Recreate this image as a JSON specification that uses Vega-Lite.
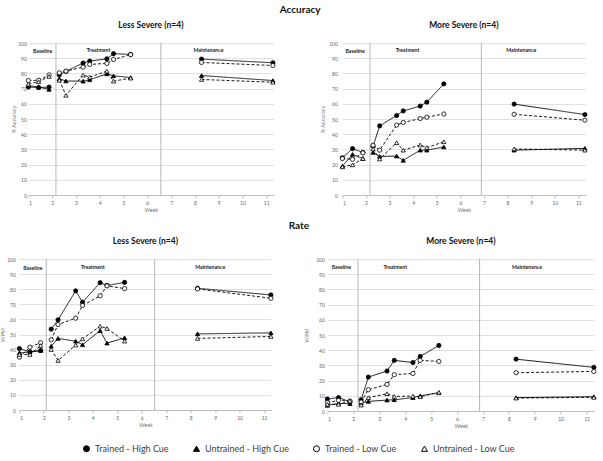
{
  "$schema": "https://vega.github.io/schema/vega-lite/v6.json",
  "padding": {"left": 0, "top": 4, "right": 2, "bottom": 2},
  "background": "white",
  "datasets": {
    "perf": [
      {"panel": "A", "phase": "Baseline", "week": 1, "Trained - High Cue": 71, "Untrained - High Cue": 72, "Trained - Low Cue": 75.3, "Untrained - Low Cue": 73},
      {"panel": "A", "phase": "Baseline", "week": 1.43, "Trained - High Cue": 70.7, "Untrained - High Cue": 71, "Trained - Low Cue": 75.5, "Untrained - Low Cue": 74.5},
      {"panel": "A", "phase": "Baseline", "week": 1.87, "Trained - High Cue": 71, "Untrained - High Cue": 69.5, "Trained - Low Cue": 79, "Untrained - Low Cue": 78},
      {"panel": "A", "phase": "Treatment", "week": 2.3, "Trained - High Cue": 79, "Untrained - High Cue": 76.5, "Trained - Low Cue": 80.4, "Untrained - Low Cue": 75.5},
      {"panel": "A", "phase": "Treatment", "week": 2.58, "Trained - High Cue": 81.3, "Untrained - High Cue": 75, "Trained - Low Cue": 81.5, "Untrained - Low Cue": 65.6},
      {"panel": "A", "phase": "Treatment", "week": 3.3, "Trained - High Cue": 86.8, "Untrained - High Cue": 74.9, "Trained - Low Cue": 84.1, "Untrained - Low Cue": 78.9},
      {"panel": "A", "phase": "Treatment", "week": 3.58, "Trained - High Cue": 88.1, "Untrained - High Cue": 75.8, "Trained - Low Cue": 85.9, "Untrained - Low Cue": 77.5},
      {"panel": "A", "phase": "Treatment", "week": 4.3, "Trained - High Cue": 89.6, "Untrained - High Cue": 79.7, "Trained - Low Cue": 86.6, "Untrained - Low Cue": 81.5},
      {"panel": "A", "phase": "Treatment", "week": 4.58, "Trained - High Cue": 93, "Untrained - High Cue": 78.4, "Trained - Low Cue": 89.2, "Untrained - Low Cue": 74.9},
      {"panel": "A", "phase": "Treatment", "week": 5.3, "Trained - High Cue": 92.5, "Untrained - High Cue": 77.3, "Trained - Low Cue": 92.3, "Untrained - Low Cue": 76.9},
      {"panel": "A", "phase": "Maintenance", "week": 8.28, "Trained - High Cue": 89.4, "Untrained - High Cue": 78.6, "Trained - Low Cue": 87.2, "Untrained - Low Cue": 76},
      {"panel": "A", "phase": "Maintenance", "week": 11.28, "Trained - High Cue": 87, "Untrained - High Cue": 75.3, "Trained - Low Cue": 85.2, "Untrained - Low Cue": 74.2},
      {"panel": "B", "phase": "Baseline", "week": 1, "Trained - High Cue": 24.5, "Untrained - High Cue": 19, "Trained - Low Cue": 24, "Untrained - Low Cue": 18.5},
      {"panel": "B", "phase": "Baseline", "week": 1.43, "Trained - High Cue": 30.5, "Untrained - High Cue": 26.7, "Trained - Low Cue": 23.5, "Untrained - Low Cue": 19.8},
      {"panel": "B", "phase": "Baseline", "week": 1.87, "Trained - High Cue": 28, "Untrained - High Cue": 24, "Trained - Low Cue": 27.7, "Untrained - Low Cue": 24},
      {"panel": "B", "phase": "Treatment", "week": 2.3, "Trained - High Cue": 32, "Untrained - High Cue": 28, "Trained - Low Cue": 32.7, "Untrained - Low Cue": 30.3},
      {"panel": "B", "phase": "Treatment", "week": 2.58, "Trained - High Cue": 45.5, "Untrained - High Cue": 25.4, "Trained - Low Cue": 29.5, "Untrained - Low Cue": 23.7},
      {"panel": "B", "phase": "Treatment", "week": 3.3, "Trained - High Cue": 52.3, "Untrained - High Cue": 25.6, "Trained - Low Cue": 46, "Untrained - Low Cue": 34.4},
      {"panel": "B", "phase": "Treatment", "week": 3.58, "Trained - High Cue": 55.3, "Untrained - High Cue": 22.8, "Trained - Low Cue": 47.7, "Untrained - Low Cue": 29.5},
      {"panel": "B", "phase": "Treatment", "week": 4.3, "Trained - High Cue": 58.5, "Untrained - High Cue": 29.5, "Trained - Low Cue": 50.3, "Untrained - Low Cue": 32.9},
      {"panel": "B", "phase": "Treatment", "week": 4.58, "Trained - High Cue": 61.1, "Untrained - High Cue": 29.5, "Trained - Low Cue": 51.2, "Untrained - Low Cue": 31.2},
      {"panel": "B", "phase": "Treatment", "week": 5.3, "Trained - High Cue": 73.1, "Untrained - High Cue": 31.6, "Trained - Low Cue": 53.3, "Untrained - Low Cue": 35},
      {"panel": "B", "phase": "Maintenance", "week": 8.28, "Trained - High Cue": 59.8, "Untrained - High Cue": 29.5, "Trained - Low Cue": 53.1, "Untrained - Low Cue": 30.3},
      {"panel": "B", "phase": "Maintenance", "week": 11.28, "Trained - High Cue": 52.9, "Untrained - High Cue": 30.7, "Trained - Low Cue": 49.2, "Untrained - Low Cue": 29.5},
      {"panel": "C", "phase": "Baseline", "week": 1, "Trained - High Cue": 40.7, "Untrained - High Cue": 37.9, "Trained - Low Cue": 35, "Untrained - Low Cue": 36.8},
      {"panel": "C", "phase": "Baseline", "week": 1.43, "Trained - High Cue": 38.5, "Untrained - High Cue": 38.3, "Trained - Low Cue": 41.6, "Untrained - Low Cue": 36.8},
      {"panel": "C", "phase": "Baseline", "week": 1.87, "Trained - High Cue": 39.4, "Untrained - High Cue": 39.4, "Trained - Low Cue": 44.5, "Untrained - Low Cue": 42.7},
      {"panel": "C", "phase": "Treatment", "week": 2.3, "Trained - High Cue": 53.5, "Untrained - High Cue": 42.3, "Trained - Low Cue": 46.5, "Untrained - Low Cue": 40.1},
      {"panel": "C", "phase": "Treatment", "week": 2.58, "Trained - High Cue": 59.7, "Untrained - High Cue": 47.4, "Trained - Low Cue": 56.6, "Untrained - Low Cue": 32.8},
      {"panel": "C", "phase": "Treatment", "week": 3.3, "Trained - High Cue": 78.9, "Untrained - High Cue": 45.6, "Trained - Low Cue": 60.8, "Untrained - Low Cue": 43},
      {"panel": "C", "phase": "Treatment", "week": 3.58, "Trained - High Cue": 71.4, "Untrained - High Cue": 43.2, "Trained - Low Cue": 69.2, "Untrained - Low Cue": 47.1},
      {"panel": "C", "phase": "Treatment", "week": 4.3, "Trained - High Cue": 84.3, "Untrained - High Cue": 52.6, "Trained - Low Cue": 75.6, "Untrained - Low Cue": 55.5},
      {"panel": "C", "phase": "Treatment", "week": 4.58, "Trained - High Cue": 82.5, "Untrained - High Cue": 44.3, "Trained - Low Cue": 82.2, "Untrained - Low Cue": 54},
      {"panel": "C", "phase": "Treatment", "week": 5.3, "Trained - High Cue": 84.5, "Untrained - High Cue": 47.8, "Trained - Low Cue": 80.4, "Untrained - Low Cue": 45.6},
      {"panel": "C", "phase": "Maintenance", "week": 8.28, "Trained - High Cue": 80.6, "Untrained - High Cue": 50.4, "Trained - Low Cue": 80.2, "Untrained - Low Cue": 47.4},
      {"panel": "C", "phase": "Maintenance", "week": 11.28, "Trained - High Cue": 76.2, "Untrained - High Cue": 51.1, "Trained - Low Cue": 74, "Untrained - Low Cue": 48.7},
      {"panel": "D", "phase": "Baseline", "week": 1, "Trained - High Cue": 7.9, "Untrained - High Cue": 3.7, "Trained - Low Cue": 5.5, "Untrained - Low Cue": 4.4},
      {"panel": "D", "phase": "Baseline", "week": 1.43, "Trained - High Cue": 8.8, "Untrained - High Cue": 5, "Trained - Low Cue": 7, "Untrained - Low Cue": 4.4},
      {"panel": "D", "phase": "Baseline", "week": 1.87, "Trained - High Cue": 6.1, "Untrained - High Cue": 4.8, "Trained - Low Cue": 6.6, "Untrained - Low Cue": 6.6},
      {"panel": "D", "phase": "Treatment", "week": 2.3, "Trained - High Cue": 7.4, "Untrained - High Cue": 5.3, "Trained - Low Cue": 5.9, "Untrained - Low Cue": 3.9},
      {"panel": "D", "phase": "Treatment", "week": 2.58, "Trained - High Cue": 22.3, "Untrained - High Cue": 6.3, "Trained - Low Cue": 14, "Untrained - Low Cue": 8.8},
      {"panel": "D", "phase": "Treatment", "week": 3.3, "Trained - High Cue": 26.3, "Untrained - High Cue": 7.2, "Trained - Low Cue": 17.5, "Untrained - Low Cue": 11.4},
      {"panel": "D", "phase": "Treatment", "week": 3.58, "Trained - High Cue": 33.3, "Untrained - High Cue": 7.4, "Trained - Low Cue": 23.9, "Untrained - Low Cue": 9.6},
      {"panel": "D", "phase": "Treatment", "week": 4.3, "Trained - High Cue": 31.9, "Untrained - High Cue": 8.8, "Trained - Low Cue": 24.7, "Untrained - Low Cue": 9.8},
      {"panel": "D", "phase": "Treatment", "week": 4.58, "Trained - High Cue": 35.9, "Untrained - High Cue": 10, "Trained - Low Cue": 33.3, "Untrained - Low Cue": 9.4},
      {"panel": "D", "phase": "Treatment", "week": 5.3, "Trained - High Cue": 43.1, "Untrained - High Cue": 12, "Trained - Low Cue": 32.6, "Untrained - Low Cue": 12.3},
      {"panel": "D", "phase": "Maintenance", "week": 8.28, "Trained - High Cue": 34.1, "Untrained - High Cue": 8.8, "Trained - Low Cue": 25.2, "Untrained - Low Cue": 8.5},
      {"panel": "D", "phase": "Maintenance", "week": 11.28, "Trained - High Cue": 28.7, "Untrained - High Cue": 9.4, "Trained - Low Cue": 26, "Untrained - Low Cue": 9}
    ],
    "phases": [
      {"panel": "A", "week": 2.16}, {"panel": "A", "week": 6.57},
      {"panel": "B", "week": 2.17}, {"panel": "B", "week": 6.89},
      {"panel": "C", "week": 2.1}, {"panel": "C", "week": 6.53},
      {"panel": "D", "week": 2.18}, {"panel": "D", "week": 6.87}
    ],
    "labels": [
      {"panel": "A", "label": "Baseline", "week": 1.6, "value": 94.5},
      {"panel": "A", "label": "Treatment", "week": 3.95, "value": 95.3},
      {"panel": "A", "label": "Maintenance", "week": 8.57, "value": 95.3},
      {"panel": "B", "label": "Baseline", "week": 1.54, "value": 94.6},
      {"panel": "B", "label": "Treatment", "week": 3.76, "value": 95.3},
      {"panel": "B", "label": "Maintenance", "week": 8.58, "value": 95.3},
      {"panel": "C", "label": "Baseline", "week": 1.55, "value": 94},
      {"panel": "C", "label": "Treatment", "week": 4.0, "value": 94.5},
      {"panel": "C", "label": "Maintenance", "week": 8.8, "value": 94.8},
      {"panel": "D", "label": "Baseline", "week": 1.54, "value": 94.7},
      {"panel": "D", "label": "Treatment", "week": 3.62, "value": 94.7},
      {"panel": "D", "label": "Maintenance", "week": 8.7, "value": 95}
    ]
  },
  "center": true,
  "resolve": {"scale": {"shape": "shared", "fill": "shared", "stroke": "shared", "strokeDash": "shared"}, "legend": {"shape": "shared", "fill": "shared", "stroke": "shared"}},
  "vconcat": [
    {
      "title": {"text": "Accuracy", "fontSize": 10, "offset": 6},
      "spacing": 69,
      "bounds": "flush",
      "resolve": {"scale": {"shape": "shared", "fill": "shared", "stroke": "shared", "strokeDash": "shared"}, "legend": {"shape": "shared", "fill": "shared", "stroke": "shared"}},
      "hconcat": [
        {
          "width": 245, "height": 152,
          "title": {"text": "Less Severe (n=4)", "fontSize": 8.5, "offset": 12},
          "encoding": {"x": {"field": "week", "type": "quantitative", "scale": {"domain": [1, 11.3], "nice": false, "zero": false}, "axis": {"values": [1,2,3,4,5,6,7,8,9,10,11], "title": "Week"}}},
          "layer": [
            {"data": {"name": "phases"}, "transform": [{"filter": "datum.panel === 'A'"}], "mark": {"type": "rule", "color": "#a6a6a6", "strokeWidth": 0.8}, "encoding": {}},
            {"data": {"name": "labels"}, "transform": [{"filter": "datum.panel === 'A'"}], "mark": {"type": "text", "fontSize": 5.2, "fontWeight": "bold", "color": "#222222"}, "encoding": {"y": {"field": "value", "type": "quantitative", "scale": {"domain": [0, 100]}, "axis": {"values": [0,10,20,30,40,50,60,70,80,90,100], "title": "% Accuracy", "labelPadding": 2, "titlePadding": 1}}, "text": {"field": "label"}}},
            {"data": {"name": "perf"}, "transform": [{"filter": "datum.panel === 'A'"}, {"fold": ["Trained - High Cue", "Untrained - High Cue", "Trained - Low Cue", "Untrained - Low Cue"], "as": ["series", "value"]}],
             "layer": [
               {"mark": {"type": "line", "color": "black", "strokeWidth": 0.9}, "encoding": {"y": {"field": "value", "type": "quantitative", "scale": {"domain": [0, 100]}, "axis": {"values": [0,10,20,30,40,50,60,70,80,90,100], "title": "% Accuracy", "labelPadding": 2, "titlePadding": 1}}, "detail": [{"field": "series"}, {"field": "phase"}], "strokeDash": {"field": "series", "scale": {"domain": ["Trained - Low Cue", "Untrained - Low Cue", "Trained - High Cue", "Untrained - High Cue"], "range": [[3, 2], [3, 2], [1, 0], [1, 0]]}, "legend": null}}},
               {"mark": {"type": "point", "filled": true, "strokeWidth": 0.8, "opacity": 1, "size": 18}, "encoding": {"y": {"field": "value", "type": "quantitative", "axis": {"values": [0,10,20,30,40,50,60,70,80,90,100], "title": "% Accuracy", "labelPadding": 2, "titlePadding": 1}},
                 "fill": {"field": "series", "scale": {"domain": ["Trained - High Cue", "Untrained - High Cue", "Trained - Low Cue", "Untrained - Low Cue"], "range": ["black", "black", "white", "white"]}, "legend": {"title": null, "orient": "bottom", "direction": "horizontal"}},
                 "stroke": {"field": "series", "scale": {"domain": ["Trained - High Cue", "Untrained - High Cue", "Trained - Low Cue", "Untrained - Low Cue"], "range": ["black", "black", "black", "black"]}, "legend": {"title": null, "orient": "bottom", "direction": "horizontal"}},
                 "shape": {"field": "series", "scale": {"domain": ["Trained - High Cue", "Untrained - High Cue", "Trained - Low Cue", "Untrained - Low Cue"], "range": ["circle", "triangle-up", "circle", "triangle-up"]}, "legend": {"title": null, "orient": "bottom", "direction": "horizontal"}}}}
             ]}
          ]
        },
        {
          "width": 243, "height": 152,
          "title": {"text": "More Severe (n=4)", "fontSize": 8.5, "offset": 12},
          "encoding": {"x": {"field": "week", "type": "quantitative", "scale": {"domain": [1, 11.3], "nice": false, "zero": false}, "axis": {"values": [1,2,3,4,5,6,7,8,9,10,11], "title": "Week"}}},
          "layer": [
            {"data": {"name": "phases"}, "transform": [{"filter": "datum.panel === 'B'"}], "mark": {"type": "rule", "color": "#a6a6a6", "strokeWidth": 0.8}, "encoding": {}},
            {"data": {"name": "labels"}, "transform": [{"filter": "datum.panel === 'B'"}], "mark": {"type": "text", "fontSize": 5.2, "fontWeight": "bold", "color": "#222222"}, "encoding": {"y": {"field": "value", "type": "quantitative", "scale": {"domain": [0, 100]}, "axis": {"values": [0,10,20,30,40,50,60,70,80,90,100], "title": "% Accuracy", "labelPadding": 5, "titlePadding": 3}}, "text": {"field": "label"}}},
            {"data": {"name": "perf"}, "transform": [{"filter": "datum.panel === 'B'"}, {"fold": ["Trained - High Cue", "Untrained - High Cue", "Trained - Low Cue", "Untrained - Low Cue"], "as": ["series", "value"]}],
             "layer": [
               {"mark": {"type": "line", "color": "black", "strokeWidth": 0.9}, "encoding": {"y": {"field": "value", "type": "quantitative", "scale": {"domain": [0, 100]}, "axis": {"values": [0,10,20,30,40,50,60,70,80,90,100], "title": "% Accuracy", "labelPadding": 5, "titlePadding": 3}}, "detail": [{"field": "series"}, {"field": "phase"}], "strokeDash": {"field": "series", "scale": {"domain": ["Trained - Low Cue", "Untrained - Low Cue", "Trained - High Cue", "Untrained - High Cue"], "range": [[3, 2], [3, 2], [1, 0], [1, 0]]}, "legend": null}}},
               {"mark": {"type": "point", "filled": true, "strokeWidth": 0.8, "opacity": 1, "size": 18}, "encoding": {"y": {"field": "value", "type": "quantitative", "axis": {"values": [0,10,20,30,40,50,60,70,80,90,100], "title": "% Accuracy", "labelPadding": 5, "titlePadding": 3}},
                 "fill": {"field": "series", "scale": {"domain": ["Trained - High Cue", "Untrained - High Cue", "Trained - Low Cue", "Untrained - Low Cue"], "range": ["black", "black", "white", "white"]}},
                 "stroke": {"field": "series", "scale": {"domain": ["Trained - High Cue", "Untrained - High Cue", "Trained - Low Cue", "Untrained - Low Cue"], "range": ["black", "black", "black", "black"]}},
                 "shape": {"field": "series", "scale": {"domain": ["Trained - High Cue", "Untrained - High Cue", "Trained - Low Cue", "Untrained - Low Cue"], "range": ["circle", "triangle-up", "circle", "triangle-up"]}}}}
             ]}
          ]
        }
      ]
    },
    {
      "title": {"text": "Rate", "fontSize": 10, "offset": 6},
      "spacing": 56,
      "bounds": "flush",
      "resolve": {"scale": {"shape": "shared", "fill": "shared", "stroke": "shared", "strokeDash": "shared"}, "legend": {"shape": "shared", "fill": "shared", "stroke": "shared"}},
      "hconcat": [
        {
          "width": 252, "height": 151,
          "title": {"text": "Less Severe (n=4)", "fontSize": 8.5, "offset": 12},
          "encoding": {"x": {"field": "week", "type": "quantitative", "scale": {"domain": [1, 11.3], "nice": false, "zero": false}, "axis": {"values": [1,2,3,4,5,6,7,8,9,10,11], "title": "Week"}}},
          "layer": [
            {"data": {"name": "phases"}, "transform": [{"filter": "datum.panel === 'C'"}], "mark": {"type": "rule", "color": "#a6a6a6", "strokeWidth": 0.8}, "encoding": {}},
            {"data": {"name": "labels"}, "transform": [{"filter": "datum.panel === 'C'"}], "mark": {"type": "text", "fontSize": 5.2, "fontWeight": "bold", "color": "#222222"}, "encoding": {"y": {"field": "value", "type": "quantitative", "scale": {"domain": [0, 100]}, "axis": {"values": [0,10,20,30,40,50,60,70,80,90,100], "title": "WPM", "labelPadding": 4, "titlePadding": 1.5}}, "text": {"field": "label"}}},
            {"data": {"name": "perf"}, "transform": [{"filter": "datum.panel === 'C'"}, {"fold": ["Trained - High Cue", "Untrained - High Cue", "Trained - Low Cue", "Untrained - Low Cue"], "as": ["series", "value"]}],
             "layer": [
               {"mark": {"type": "line", "color": "black", "strokeWidth": 0.9}, "encoding": {"y": {"field": "value", "type": "quantitative", "scale": {"domain": [0, 100]}, "axis": {"values": [0,10,20,30,40,50,60,70,80,90,100], "title": "WPM", "labelPadding": 4, "titlePadding": 1.5}}, "detail": [{"field": "series"}, {"field": "phase"}], "strokeDash": {"field": "series", "scale": {"domain": ["Trained - Low Cue", "Untrained - Low Cue", "Trained - High Cue", "Untrained - High Cue"], "range": [[3, 2], [3, 2], [1, 0], [1, 0]]}, "legend": null}}},
               {"mark": {"type": "point", "filled": true, "strokeWidth": 0.8, "opacity": 1, "size": 18}, "encoding": {"y": {"field": "value", "type": "quantitative", "axis": {"values": [0,10,20,30,40,50,60,70,80,90,100], "title": "WPM", "labelPadding": 4, "titlePadding": 1.5}},
                 "fill": {"field": "series", "scale": {"domain": ["Trained - High Cue", "Untrained - High Cue", "Trained - Low Cue", "Untrained - Low Cue"], "range": ["black", "black", "white", "white"]}},
                 "stroke": {"field": "series", "scale": {"domain": ["Trained - High Cue", "Untrained - High Cue", "Trained - Low Cue", "Untrained - Low Cue"], "range": ["black", "black", "black", "black"]}},
                 "shape": {"field": "series", "scale": {"domain": ["Trained - High Cue", "Untrained - High Cue", "Trained - Low Cue", "Untrained - Low Cue"], "range": ["circle", "triangle-up", "circle", "triangle-up"]}}}}
             ]}
          ]
        },
        {
          "width": 267, "height": 152,
          "title": {"text": "More Severe (n=4)", "fontSize": 8.5, "offset": 12},
          "encoding": {"x": {"field": "week", "type": "quantitative", "scale": {"domain": [1, 11.3], "nice": false, "zero": false}, "axis": {"values": [1,2,3,4,5,6,7,8,9,10,11], "title": "Week"}}},
          "layer": [
            {"data": {"name": "phases"}, "transform": [{"filter": "datum.panel === 'D'"}], "mark": {"type": "rule", "color": "#a6a6a6", "strokeWidth": 0.8}, "encoding": {}},
            {"data": {"name": "labels"}, "transform": [{"filter": "datum.panel === 'D'"}], "mark": {"type": "text", "fontSize": 5.2, "fontWeight": "bold", "color": "#222222"}, "encoding": {"y": {"field": "value", "type": "quantitative", "scale": {"domain": [0, 100]}, "axis": {"values": [0,10,20,30,40,50,60,70,80,90,100], "title": "WPM", "labelPadding": 3, "titlePadding": 6}}, "text": {"field": "label"}}},
            {"data": {"name": "perf"}, "transform": [{"filter": "datum.panel === 'D'"}, {"fold": ["Trained - High Cue", "Untrained - High Cue", "Trained - Low Cue", "Untrained - Low Cue"], "as": ["series", "value"]}],
             "layer": [
               {"mark": {"type": "line", "color": "black", "strokeWidth": 0.9}, "encoding": {"y": {"field": "value", "type": "quantitative", "scale": {"domain": [0, 100]}, "axis": {"values": [0,10,20,30,40,50,60,70,80,90,100], "title": "WPM", "labelPadding": 3, "titlePadding": 6}}, "detail": [{"field": "series"}, {"field": "phase"}], "strokeDash": {"field": "series", "scale": {"domain": ["Trained - Low Cue", "Untrained - Low Cue", "Trained - High Cue", "Untrained - High Cue"], "range": [[3, 2], [3, 2], [1, 0], [1, 0]]}, "legend": null}}},
               {"mark": {"type": "point", "filled": true, "strokeWidth": 0.8, "opacity": 1, "size": 18}, "encoding": {"y": {"field": "value", "type": "quantitative", "axis": {"values": [0,10,20,30,40,50,60,70,80,90,100], "title": "WPM", "labelPadding": 3, "titlePadding": 6}},
                 "fill": {"field": "series", "scale": {"domain": ["Trained - High Cue", "Untrained - High Cue", "Trained - Low Cue", "Untrained - Low Cue"], "range": ["black", "black", "white", "white"]}},
                 "stroke": {"field": "series", "scale": {"domain": ["Trained - High Cue", "Untrained - High Cue", "Trained - Low Cue", "Untrained - Low Cue"], "range": ["black", "black", "black", "black"]}},
                 "shape": {"field": "series", "scale": {"domain": ["Trained - High Cue", "Untrained - High Cue", "Trained - Low Cue", "Untrained - Low Cue"], "range": ["circle", "triangle-up", "circle", "triangle-up"]}}}}
             ]}
          ]
        }
      ]
    }
  ],
  "spacing": 7,
  "config": {
    "font": "Lato",
    "view": {"stroke": null},
    "title": {"font": "Lato", "fontWeight": "bold", "color": "#111111", "anchor": "middle"},
    "axis": {"labelFontSize": 5, "labelColor": "#666666", "titleFontSize": 5.5, "titleColor": "#777777", "titleFontWeight": "normal", "gridColor": "#d9d9d9", "gridWidth": 0.8, "domainColor": "#bfbfbf", "tickColor": "#bfbfbf", "tickSize": 3, "labelFont": "Lato", "titleFont": "Lato"},
    "axisX": {"grid": false, "domain": true, "ticks": true, "labelPadding": 2, "titlePadding": 2},
    "axisY": {"grid": true, "domain": false, "ticks": false},
    "legend": {"labelFont": "Lato", "orient": "bottom", "direction": "horizontal", "title": null, "labelFontSize": 9, "labelColor": "#404040", "symbolSize": 36, "symbolStrokeWidth": 1, "labelOffset": 4, "columnPadding": 22, "offset": 15, "layout": {"bottom": {"anchor": "middle"}}}
  }
}
